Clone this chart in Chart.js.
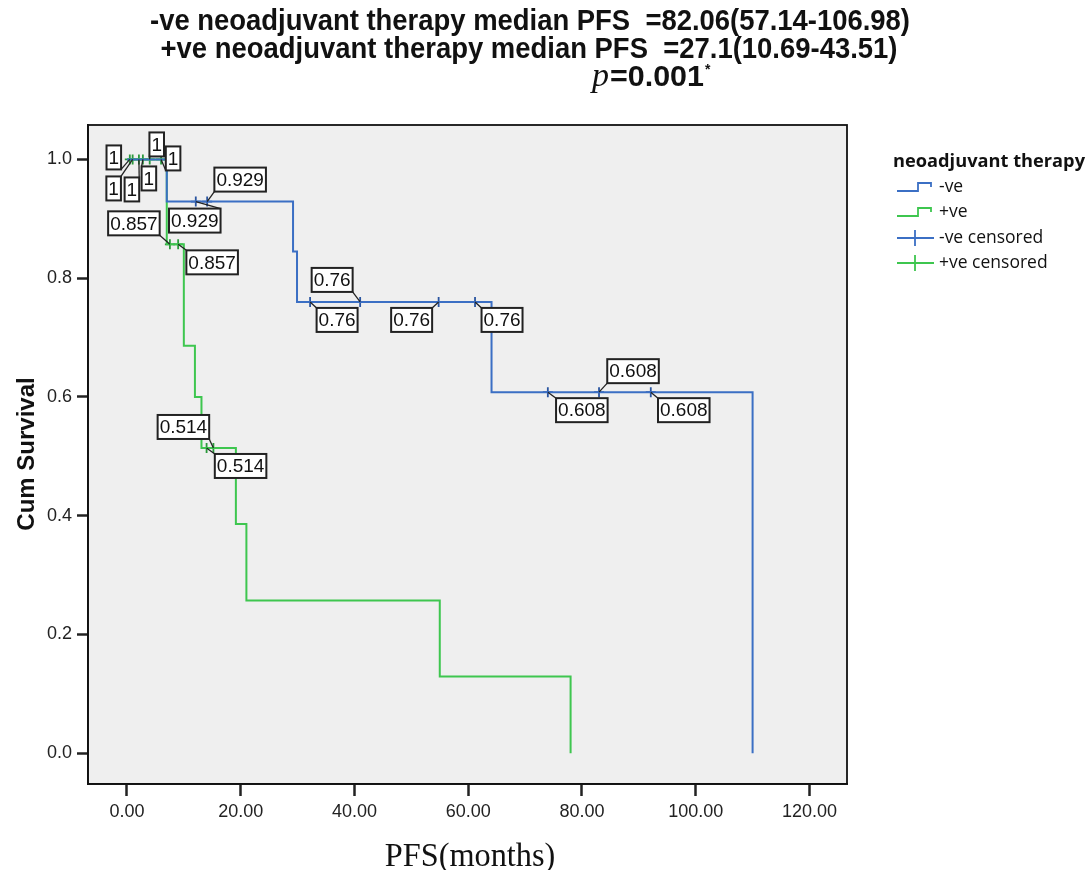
<!DOCTYPE html>
<html>
<head>
<meta charset="utf-8">
<script src="https://cdn.jsdelivr.net/npm/chart.js@4.4.0/dist/chart.umd.min.js"></script>
<style>
  html, body { margin: 0; padding: 0; background: #fff; }
  #wrap { width: 1088px; height: 870px; position: relative; }
</style>
</head>
<body>
<div id="wrap"><canvas id="km"></canvas></div>
<script>
/*==================================================================
   DATA
==================================================================*/
// -ve neoadjuvant therapy: step curve
const negTime = [0, 7.0, 29.2, 29.9, 64.1, 110.0]
const negSurv = [1, 0.929, 0.845, 0.76, 0.608, 0]
// +ve neoadjuvant therapy: step curve
const posTime = [0, 7.0, 10.0, 11.95, 13.1, 19.15, 21.0, 55.0, 78.0]
const posSurv = [1, 0.857, 0.686, 0.6, 0.514, 0.386, 0.257, 0.129, 0]
// censored cases
const negCensTime = [12.1, 14.1, 32.2, 41.0, 54.8, 61.2, 74.0, 83.0, 92.1]
const negCensSurv = [0.929, 0.929, 0.76, 0.76, 0.76, 0.76, 0.608, 0.608, 0.608]
const posCensTime = [0.5, 1.0, 2.1, 2.8, 4.0, 6.0, 7.55, 9.0, 14.0, 15.2]
const posCensSurv = [1, 1, 1, 1, 1, 1, 0.857, 0.857, 0.514, 0.514]

const xTicks = [0, 20, 40, 60, 80, 100, 120]
const yTicks = [0, 0.2, 0.4, 0.6, 0.8, 1.0]

const titleLines = [
  '-ve neoadjuvant therapy median PFS  =82.06(57.14-106.98)',
  '+ve neoadjuvant therapy median PFS  =27.1(10.69-43.51)'
]
const pText = '=0.001'
const legendTitle = 'neoadjuvant therapy'
const legendItems = ['-ve', '+ve', '-ve censored', '+ve censored']

/*==================================================================
   STYLE
==================================================================*/
const BLUE = '#3b6fc4'
const GREEN = '#3ec64f'
const SANS = '"Liberation Sans", Arial, sans-serif'
const SERIF = '"Liberation Serif", "Times New Roman", serif'

// where each value box sits relative to its censored mark (px)
const negLabelOff = [[-1, 19], [33, -22], [27, 18], [-28, -22], [-27, 18], [27, 18], [34, 18], [34, -21], [33, 18]]
const posLabelOff = [[-16, -2], [-19, 29], [-7, 30], [6, 19], [7, -15], [12, -1], [-36, -21], [34, 18], [34, 18], [-30, -21]]

const pts = (xs, ys) => xs.map((x, i) => ({ x: x, y: ys[i] }))

/*==================================================================
   helpers
==================================================================*/
const fitText = (ctx, txt, x, y, w, align) => {
  const m = ctx.measureText(txt).width
  ctx.save()
  ctx.translate(x, y)
  ctx.scale(w / m, 1)
  ctx.textAlign = align || 'center'
  ctx.fillText(txt, 0, 0)
  ctx.restore()
}

const drawValueBox = (ctx, px, py, off, txt) => {
  ctx.font = '19px ' + SANS
  const tw = ctx.measureText(txt).width
  const w = tw + 4, h = 24
  const cx = px + off[0], cy = py + off[1]
  const l = cx - w / 2, t = cy - h / 2
  // leader line to closest corner
  const cornerX = off[0] < 0 ? l + w : l
  const cornerY = off[1] < 0 ? t + h : t
  ctx.strokeStyle = '#222'
  ctx.lineWidth = 1.3
  ctx.beginPath()
  ctx.moveTo(px, py)
  ctx.lineTo(cornerX, cornerY)
  ctx.stroke()
  ctx.fillStyle = '#fff'
  ctx.fillRect(l, t, w, h)
  ctx.lineWidth = 2
  ctx.strokeRect(l, t, w, h)
  ctx.fillStyle = '#111'
  ctx.textAlign = 'center'
  ctx.textBaseline = 'middle'
  ctx.fillText(txt, cx, cy + 1)
}

/*==================================================================
   plugin: plot background, frame, labels, titles, legend
==================================================================*/
const kmDecor = {
  id: 'kmDecor',
  beforeDraw(chart) {
    const { ctx, chartArea: a } = chart
    ctx.save()
    ctx.fillStyle = '#efefef'
    ctx.fillRect(a.left, a.top, a.right - a.left, a.bottom - a.top)
    ctx.restore()
  },
  afterDatasetsDraw(chart) {
    const { ctx, chartArea: a } = chart
    ctx.save()
    // value boxes on censored marks
    const negMeta = chart.getDatasetMeta(2), posMeta = chart.getDatasetMeta(3)
    negMeta.data.forEach((p, i) => drawValueBox(ctx, p.x, p.y, negLabelOff[i], String(negCensSurv[i])))
    posMeta.data.forEach((p, i) => drawValueBox(ctx, p.x, p.y, posLabelOff[i], String(posCensSurv[i])))
    // frame
    ctx.strokeStyle = '#111'
    ctx.lineWidth = 1.8
    ctx.strokeRect(a.left, a.top, a.right - a.left, a.bottom - a.top)
    ctx.restore()
  },
  afterDraw(chart) {
    const { ctx } = chart
    ctx.save()
    ctx.fillStyle = '#111'
    ctx.textBaseline = 'alphabetic'
    // main title (condensed look: tall font squeezed to width)
    ctx.font = 'bold 29px ' + SANS
    fitText(ctx, titleLines[0], 530, 30, 760)
    fitText(ctx, titleLines[1], 529, 58, 737)
    ctx.font = 'italic 34px ' + SERIF
    ctx.textAlign = 'left'
    ctx.fillText('p', 592, 86)
    ctx.font = 'bold 29px ' + SANS
    fitText(ctx, pText, 610, 86, 94, 'left')
    ctx.font = 'bold 14px ' + SANS
    ctx.textAlign = 'left'
    ctx.fillText('*', 705, 74)

    // axis titles
    ctx.font = '34px ' + SERIF
    ctx.save()
    ctx.translate(470, 866)
    ctx.scale(0.95, 1)
    ctx.textAlign = 'center'
    ctx.fillText('PFS(months)', 0, 0)
    ctx.restore()
    ctx.save()
    ctx.translate(34, 454)
    ctx.rotate(-Math.PI / 2)
    ctx.textAlign = 'center'
    ctx.font = 'bold 24px ' + SANS
    ctx.fillText('Cum Survival', 0, 0)
    ctx.restore()

    // legend
    ctx.font = 'bold 18px "Open Sans", sans-serif'
    fitText(ctx, legendTitle, 893, 167, 192, 'left')
    ctx.font = '17.5px "Open Sans", sans-serif'
    ctx.textAlign = 'left'
    ctx.textBaseline = 'middle'
    const rows = [187, 212, 238, 263]
    const cols = [BLUE, GREEN, BLUE, GREEN]
    legendItems.forEach((txt, i) => {
      const y = rows[i]
      ctx.strokeStyle = cols[i]
      ctx.lineWidth = 1.8
      ctx.beginPath()
      if (i < 2) {
        ctx.moveTo(897, y + 4)
        ctx.lineTo(918, y + 4)
        ctx.lineTo(918, y - 4)
        ctx.lineTo(931, y - 4)
        ctx.lineTo(931, y)
      } else {
        ctx.moveTo(897, y)
        ctx.lineTo(934, y)
        ctx.moveTo(915, y - 8)
        ctx.lineTo(915, y + 8)
      }
      ctx.stroke()
      ctx.fillStyle = '#111'
      ctx.fillText(txt, 939, y)
    })
    ctx.restore()
  }
}

/*==================================================================
   CHART
==================================================================*/
const ctx = document.getElementById('km').getContext('2d')
const kmChart = new Chart(ctx, {
  type: 'line',
  data: {
    datasets: [
      {
        label: '-ve',
        data: pts(negTime, negSurv),
        borderColor: BLUE,
        borderWidth: 2,
        stepped: 'before',
        pointRadius: 0,
        fill: false
      },
      {
        label: '+ve',
        data: pts(posTime, posSurv),
        borderColor: GREEN,
        borderWidth: 2,
        stepped: 'before',
        pointRadius: 0,
        fill: false
      },
      {
        label: '-ve censored',
        data: pts(negCensTime, negCensSurv),
        showLine: false,
        pointStyle: 'cross',
        pointRadius: 5,
        borderColor: '#2a55a0',
        borderWidth: 1.8
      },
      {
        label: '+ve censored',
        data: pts(posCensTime, posCensSurv),
        showLine: false,
        pointStyle: 'cross',
        pointRadius: 5,
        borderColor: '#2a9a3a',
        borderWidth: 1.8
      }
    ]
  },
  options: {
    responsive: true,
    maintainAspectRatio: false,
    animation: false,
    layout: { padding: { left: 0, top: 125, right: 241, bottom: 0 } },
    plugins: {
      legend: { display: false },
      tooltip: { enabled: false }
    },
    scales: {
      x: {
        type: 'linear',
        min: -6.85,
        max: 126.6,
        afterBuildTicks: s => { s.ticks = xTicks.map(v => ({ value: v })) },
        afterFit: s => { s.height = 86 },
        grid: { drawOnChartArea: false, drawTicks: true, tickLength: 12, tickWidth: 2.5, color: '#222' },
        border: { display: true, color: '#111', width: 1.8 },
        ticks: {
          color: '#222',
          font: { family: SANS, size: 18 },
          padding: 5,
          maxRotation: 0,
          callback: v => Number(v).toFixed(2)
        }
      },
      y: {
        type: 'linear',
        min: -0.052,
        max: 1.058,
        afterBuildTicks: s => { s.ticks = yTicks.map(v => ({ value: v })) },
        afterFit: s => { s.width = 88 },
        grid: { drawOnChartArea: false, drawTicks: true, tickLength: 11, tickWidth: 2.5, color: '#222' },
        border: { display: true, color: '#111', width: 1.8 },
        ticks: {
          color: '#222',
          font: { family: SANS, size: 18 },
          padding: 5,
          callback: v => Number(v).toFixed(1)
        }
      }
    }
  },
  plugins: [kmDecor]
})
</script>
</body>
</html>
